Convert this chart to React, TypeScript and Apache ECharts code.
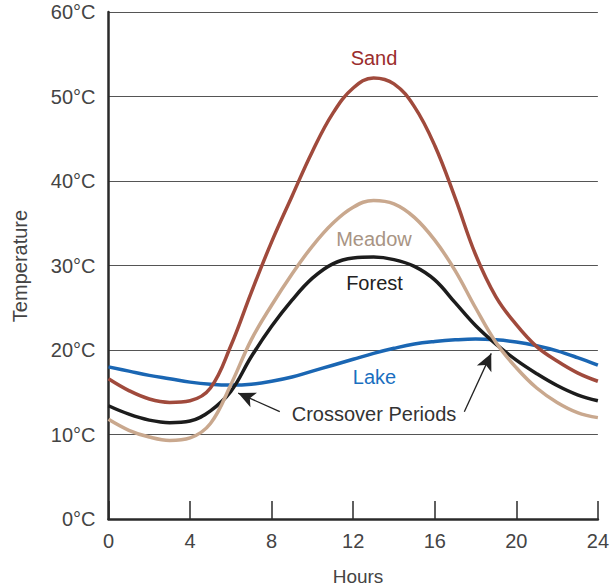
import React, { useEffect, useRef } from "react";
import * as echarts from "echarts";

const hours = [0, 1, 2, 3, 4, 5, 6, 7, 8, 9, 10, 11, 12, 13, 14, 15, 16, 17, 18, 19, 20, 21, 22, 23, 24];
const sand = [16.6, 15.2, 14.2, 13.8, 14.0, 15.5, 20.5, 26.8, 32.8, 38.2, 43.5, 48.0, 51.0, 52.2, 51.5, 48.8, 44.2, 38.0, 31.3, 26.3, 23.0, 20.4, 18.7, 17.3, 16.3];
const meadow = [11.8, 10.5, 9.7, 9.3, 9.6, 11.3, 15.9, 21.2, 25.3, 29.0, 32.3, 35.0, 36.9, 37.7, 37.3, 35.7, 33.0, 29.4, 25.0, 20.9, 17.9, 15.5, 13.8, 12.6, 12.0];
const forest = [13.4, 12.4, 11.7, 11.4, 11.6, 12.8, 15.1, 19.2, 22.8, 25.9, 28.5, 30.2, 30.9, 31.0, 30.7, 29.9, 28.3, 25.6, 22.9, 20.7, 18.8, 17.2, 15.8, 14.7, 14.0];
const lake = [18.0, 17.5, 17.0, 16.6, 16.2, 15.95, 15.85, 15.95, 16.3, 16.8, 17.5, 18.2, 18.9, 19.6, 20.2, 20.7, 21.0, 21.2, 21.3, 21.2, 20.95, 20.5, 19.9, 19.1, 18.2];

const seriesNames = ["Sand", "Meadow", "Forest", "Lake"];
const lineColors = ["#a04a3c", "#c9a88e", "#1c1c1c", "#1a66b3"];
const labelColors = ["#9b2d2d", "#a89484", "#222222", "#1a6fc0"];

// arrow annotations: [tail hour, tail temp] -> [tip hour, tip temp]
const arrows = [
  [[8.4, 12.7], [6.36, 14.9]],
  [[17.45, 12.7], [18.77, 19.6]],
];

const FONT = '"Liberation Sans", Arial, sans-serif';

export default function App() {
  const ref = useRef<HTMLDivElement>(null);
  useEffect(() => {
    if (!ref.current) return;
    const chart = echarts.init(ref.current, null, { renderer: "svg" });
    const pair = (arr: number[]) => hours.map((h, i) => [h, arr[i]]);
    const datas = [sand, meadow, forest, lake];
    const series: any[] = datas.map((d, i) => ({
      name: seriesNames[i],
      type: "line",
      data: pair(d),
      smooth: 0.4,
      showSymbol: false,
      lineStyle: { color: lineColors[i], width: 3.5 },
      z: 10 - i,
    }));
    series.push({
      type: "line",
      data: [],
      markLine: {
        silent: true,
        symbol: ["none", "arrow"],
        symbolSize: [12, 17],
        label: { show: false },
        lineStyle: { color: "#222", width: 1.3, type: "solid" },
        data: arrows.map((a) => [{ coord: a[0] }, { coord: a[1] }]),
      },
      z: 20,
    });
    const labelPos = [
      [374, 57.5],
      [374, 239],
      [374.5, 283],
      [374.5, 377],
    ];
    const graphics: any[] = seriesNames.map((n, i) => ({
      type: "text",
      x: labelPos[i][0],
      y: labelPos[i][1],
      style: {
        text: n,
        fill: labelColors[i],
        font: `20px ${FONT}`,
        align: "center",
        verticalAlign: "middle",
      },
    }));
    graphics.push({
      type: "text",
      x: 374,
      y: 414,
      style: { text: "Crossover Periods", fill: "#333", font: `20px ${FONT}`, align: "center", verticalAlign: "middle" },
    });
    graphics.push({
      type: "text",
      x: 358,
      y: 576,
      style: { text: "Hours", fill: "#444", font: `19px ${FONT}`, align: "center", verticalAlign: "middle" },
    });
    graphics.push({
      type: "text",
      x: 20,
      y: 266,
      rotation: Math.PI / 2,
      style: { text: "Temperature", fill: "#444", font: `20px ${FONT}`, align: "center", verticalAlign: "middle" },
    });
    chart.setOption({
      animation: false,
      grid: { left: 108.5, right: 13.5, top: 12, bottom: 66, containLabel: false },
      xAxis: {
        type: "value",
        min: 0,
        max: 24,
        interval: 4,
        axisLine: { show: true, lineStyle: { color: "#2a2a2a", width: 2.5 } },
        axisTick: { show: true, inside: true, length: 18, lineStyle: { color: "#2a2a2a", width: 1.5 } },
        axisLabel: { color: "#444", fontSize: 20, fontFamily: FONT, margin: 12 },
        splitLine: { show: false },
      },
      yAxis: {
        type: "value",
        min: 0,
        max: 60,
        interval: 10,
        axisLine: { show: true, lineStyle: { color: "#2a2a2a", width: 2.5 } },
        axisTick: { show: false },
        axisLabel: { color: "#444", fontSize: 20, fontFamily: FONT, margin: 13, formatter: "{value}°C" },
        splitLine: { show: true, lineStyle: { color: "#555", width: 1 } },
      },
      series,
      graphic: graphics,
    });
    return () => chart.dispose();
  }, []);
  return <div ref={ref} style={{ width: 612, height: 585, position: "absolute", left: 0, top: 0 }} />;
}
